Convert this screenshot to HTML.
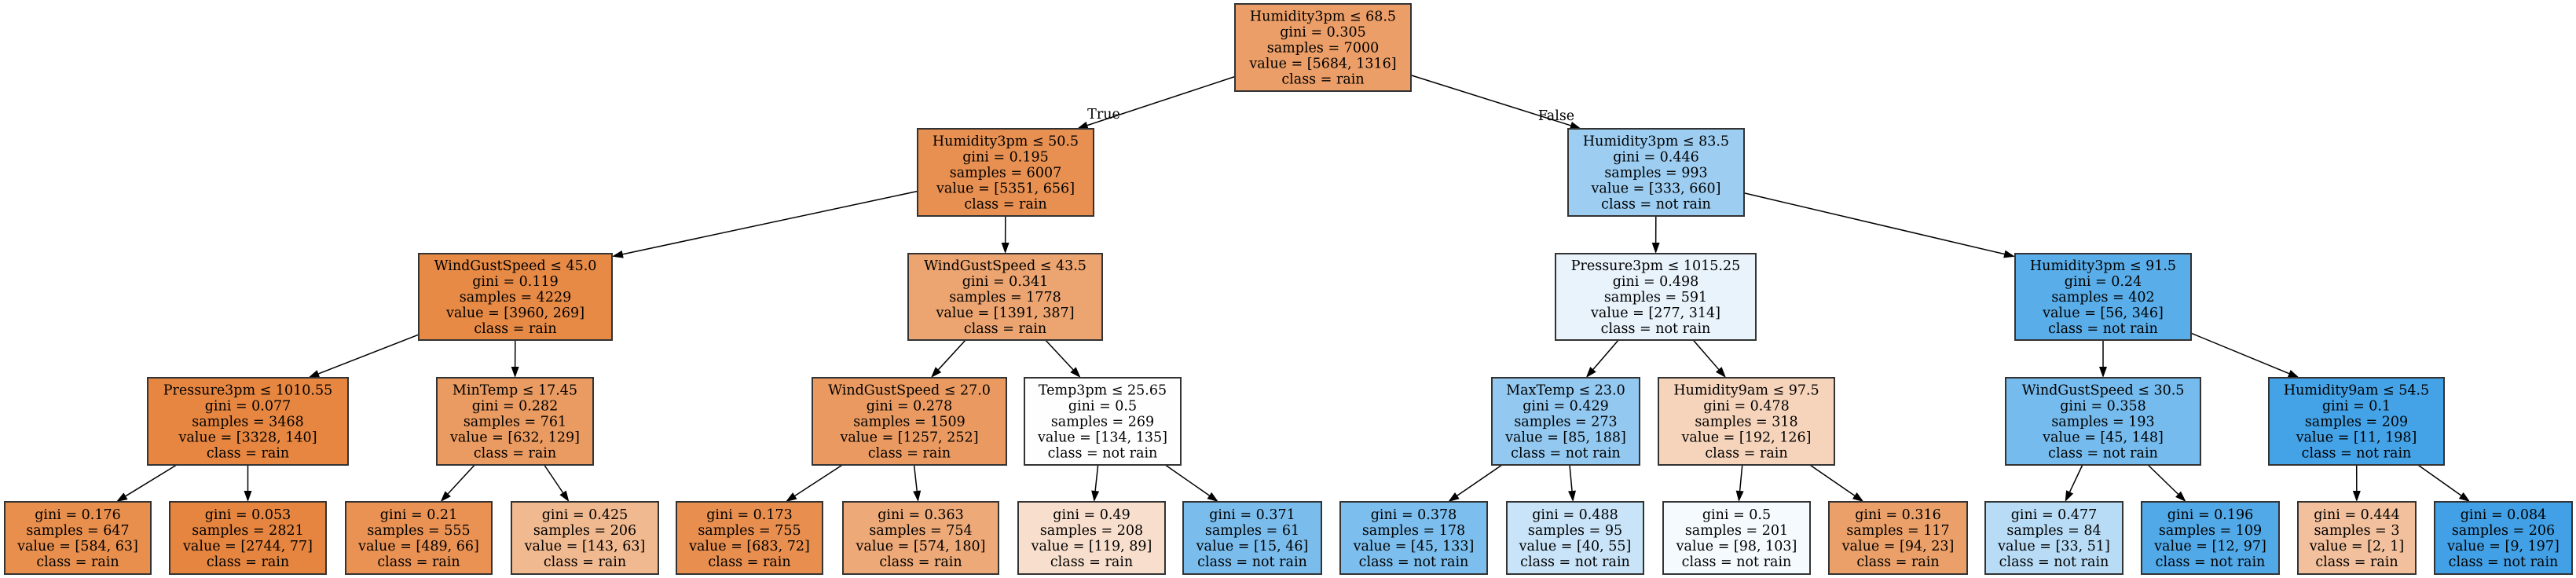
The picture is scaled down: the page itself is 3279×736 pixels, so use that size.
<!DOCTYPE html>
<html><head><meta charset="utf-8"><style>
html,body{margin:0;padding:0;background:#fff;width:3279px;height:736px;overflow:hidden}
svg{display:block}
text{font-family:"DejaVu Serif","Liberation Serif",serif;font-size:17.5px;fill:#000}
</style></head><body>
<svg id="s" width="3279" height="736" xmlns="http://www.w3.org/2000/svg"></svg>
<script>
(function(){
var Y=[[5,116],[164,275],[323,433],[481,592],[639,731]];
var N={
r:[1572,1796,0,"Humidity3pm ≤ 68.5",[5684,1316],7000,"0.305"],
a:[1168,1392,1,"Humidity3pm ≤ 50.5",[5351,656],6007,"0.195"],
b:[1996,2220,1,"Humidity3pm ≤ 83.5",[333,660],993,"0.446"],
c:[533,779,2,"WindGustSpeed ≤ 45.0",[3960,269],4229,"0.119"],
d:[1156,1403,2,"WindGustSpeed ≤ 43.5",[1391,387],1778,"0.341"],
e:[1980,2235,2,"Pressure3pm ≤ 1015.25",[277,314],591,"0.498"],
f:[2565,2789,2,"Humidity3pm ≤ 91.5",[56,346],402,"0.24"],
g:[188,443,3,"Pressure3pm ≤ 1010.55",[3328,140],3468,"0.077"],
h:[556,755,3,"MinTemp ≤ 17.45",[632,129],761,"0.282"],
i:[1034,1281,3,"WindGustSpeed ≤ 27.0",[1257,252],1509,"0.278"],
j:[1304,1503,3,"Temp3pm ≤ 25.65",[134,135],269,"0.5"],
k:[1899,2087,3,"MaxTemp ≤ 23.0",[85,188],273,"0.429"],
l:[2111,2335,3,"Humidity9am ≤ 97.5",[192,126],318,"0.478"],
m:[2553,2801,3,"WindGustSpeed ≤ 30.5",[45,148],193,"0.358"],
n:[2888,3111,3,"Humidity9am ≤ 54.5",[11,198],209,"0.1"],
o1:[6,192,4,null,[584,63],647,"0.176"],
o2:[216,415,4,null,[2744,77],2821,"0.053"],
o3:[440,626,4,null,[489,66],555,"0.21"],
o4:[651,838,4,null,[143,63],206,"0.425"],
o5:[861,1047,4,null,[683,72],755,"0.173"],
o6:[1073,1271,4,null,[574,180],754,"0.363"],
o7:[1296,1483,4,null,[119,89],208,"0.49"],
o8:[1506,1682,4,null,[15,46],61,"0.371"],
o9:[1706,1893,4,null,[45,133],178,"0.378"],
o10:[1918,2092,4,null,[40,55],95,"0.488"],
o11:[2117,2304,4,null,[98,103],201,"0.5"],
o12:[2328,2504,4,null,[94,23],117,"0.316"],
o13:[2527,2702,4,null,[33,51],84,"0.477"],
o14:[2726,2901,4,null,[12,97],109,"0.196"],
o15:[2925,3075,4,null,[2,1],3,"0.444"],
o16:[3099,3274,4,null,[9,197],206,"0.084"]
};
var E=[["r","a"],["r","b"],["a","c"],["a","d"],["b","e"],["b","f"],["c","g"],["c","h"],["d","i"],["d","j"],["e","k"],["e","l"],["f","m"],["f","n"],
["g","o1"],["g","o2"],["h","o3"],["h","o4"],["i","o5"],["i","o6"],["j","o7"],["j","o8"],["k","o9"],["k","o10"],["l","o11"],["l","o12"],["m","o13"],["m","o14"],["n","o15"],["n","o16"]];
var out="";
function box(n){var v=N[n];return {x1:v[0],x2:v[1],y1:Y[v[2]][0],y2:Y[v[2]][1],cx:(v[0]+v[1])/2,cy:(Y[v[2]][0]+Y[v[2]][1])/2};}
function clip(b,dx,dy,cx,cy){var t=1e9;if(dx>0)t=Math.min(t,(b.x2-cx)/dx);if(dx<0)t=Math.min(t,(b.x1-cx)/dx);if(dy>0)t=Math.min(t,(b.y2-cy)/dy);if(dy<0)t=Math.min(t,(b.y1-cy)/dy);return t;}
E.forEach(function(e){var p=box(e[0]),c=box(e[1]);
 var sx=p.cx,sy=p.cy,tx=c.cx,ty=c.y1+30;var dx=tx-sx,dy=ty-sy;
 var t0=clip(p,dx,dy,sx,sy);var ax=sx+dx*t0,ay=sy+dy*t0;
 var t1=clip(c,-dx,-dy,tx,ty);var bx=tx-dx*t1,by=ty-dy*t1;
 var L=Math.hypot(bx-ax,by-ay),ux=(bx-ax)/L,uy=(by-ay)/L;
 var hx=bx-ux*14,hy=by-uy*14;
 out+='<line x1="'+ax+'" y1="'+ay+'" x2="'+hx+'" y2="'+hy+'" stroke="#000" stroke-width="1.5"/>';
 out+='<polygon points="'+bx+','+by+' '+(hx-uy*5)+','+(hy+ux*5)+' '+(hx+uy*5)+','+(hy-ux*5)+'" fill="#000"/>';
});
for(var k in N){var v=N[k],bb=box(k),s=v[4][0]+v[4][1],p0=v[4][0]/s,p1=v[4][1]/s;
 var mx=Math.max(p0,p1),mn=Math.min(p0,p1),al=(mx-mn)/(1-mn);
 var base=p0>=p1?[229,129,57]:[57,157,229];
 var col='rgb('+base.map(function(c){return Math.round(255-al*(255-c))}).join(',')+')';
 out+='<rect x="'+bb.x1+'" y="'+bb.y1+'" width="'+(bb.x2-bb.x1)+'" height="'+(bb.y2-bb.y1)+'" fill="'+col+'" stroke="#333" stroke-width="2"/>';
 var lines=[];if(v[3])lines.push(v[3]);lines.push("gini = "+v[6]);lines.push("samples = "+v[5]);lines.push("value = ["+v[4][0]+", "+v[4][1]+"]");lines.push("class = "+(p0>=p1?"rain":"not rain"));
 var hh=bb.y2-bb.y1,tp=bb.y1+(hh-lines.length*20)/2;
 for(var q=0;q<lines.length;q++){out+='<text x="'+bb.cx+'" y="'+(tp+16+q*20)+'" text-anchor="middle">'+lines[q]+'</text>';}
}
out+='<text x="1405" y="151" text-anchor="middle">True</text><text x="1981" y="153" text-anchor="middle">False</text>';
document.getElementById("s").innerHTML=out;
})();
</script>
</body></html>
